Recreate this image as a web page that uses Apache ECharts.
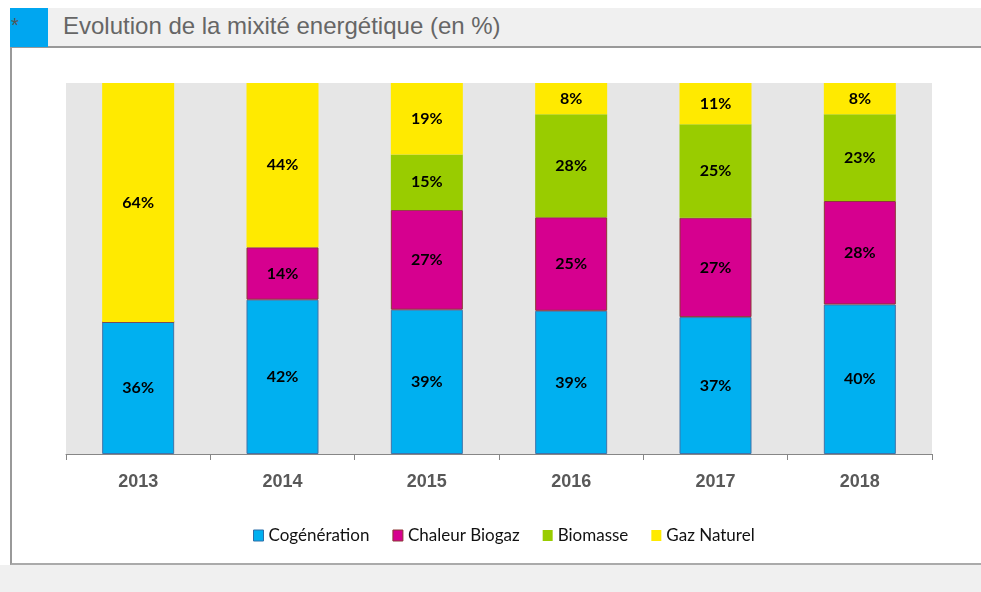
<!DOCTYPE html>
<html>
<head>
<meta charset="utf-8">
<script src="https://cdn.jsdelivr.net/npm/echarts@6/dist/echarts.min.js"></script>
<style>
  html, body { margin: 0; padding: 0; background: #f0f0f0; }
  #page { position: relative; width: 981px; height: 592px; background: #f0f0f0; overflow: hidden; }
  #topband { position: absolute; left: 0; top: 0; width: 981px; height: 8px; background: #fff; }
  #leftband { position: absolute; left: 0; top: 0; width: 10px; height: 565px; background: #fff; }
  #header { position: absolute; left: 10px; top: 8px; width: 971px; height: 38px; background: #f0f0f0; border-bottom: 2px solid #999; }
  #mark { position: absolute; left: 10px; top: 8px; width: 38px; height: 39px; background: #00a6f0; }
  #star { position: absolute; left: 11px; top: 15px; color: #555; font: 20px "Liberation Sans", Arial, sans-serif; line-height: 20px; }
  #title { position: absolute; left: 63px; top: 12px; color: #666; font: 24px "Liberation Sans", Arial, sans-serif; line-height: 28px; white-space: nowrap; }
  #panel { position: absolute; left: 10px; top: 48px; width: 971px; height: 515px; background: #fff; border-left: 2px solid #999; border-bottom: 2px solid #aaa; }
  #chart { position: absolute; left: 0; top: 0; width: 981px; height: 592px; }
</style>
</head>
<body>
<div id="page">
  <div id="topband"></div>
  <div id="leftband"></div>
  <div id="header"></div>
  <div id="mark"></div>
  <div id="star">*</div>
  <div id="title">Evolution de la mixité energétique (en %)</div>
  <div id="panel"></div>
  <div id="chart"></div>
</div>
<script>
// données (en %)
const years = ["2013", "2014", "2015", "2016", "2017", "2018"];
const cogeneration = [35.6, 41.6, 38.9, 38.6, 36.9, 40.3];
const chaleurBiogaz = [0, 14.1, 26.9, 25.2, 26.8, 27.9];
const biomasse = [0, 0, 14.9, 27.8, 25.2, 23.4];
const gazNaturel = [64.4, 44.3, 19.3, 8.4, 11.1, 8.4];

let myChart = echarts.init(document.getElementById("chart"), null, { renderer: "canvas" });

let labelStyle = {
  show: true,
  position: "inside",
  color: "#000",
  fontFamily: "Lato",
  fontWeight: "bold",
  fontSize: 16,
  formatter: function (p) {
    // pas d'étiquette pour les valeurs nulles
    return p.value > 0 ? Math.round(p.value) + "%" : "";
  },
};

function makeSeries(name, data, color, borderColor) {
  return {
    name: name,
    type: "bar",
    stack: "total",
    barWidth: 72,
    itemStyle: {
      color: color,
      borderColor: borderColor,
      borderWidth: borderColor ? 1 : 0,
    },
    label: labelStyle,
    emphasis: { disabled: true },
    data: data,
  };
}

let option = {
  animation: false,
  backgroundColor: "transparent",
  grid: {
    left: 66,
    right: 49,
    top: 83,
    bottom: 138,
    show: true,
    backgroundColor: "#e6e6e6",
    borderWidth: 0,
  },
  legend: {
    top: 522,
    left: 248,
    icon: "rect",
    itemWidth: 10,
    itemHeight: 11,
    itemGap: 23,
    textStyle: {
      color: "#111",
      fontFamily: "Lato",
      fontSize: 17,
    },
    data: [
      { name: "Cogénération", itemStyle: { borderColor: "#2f6fa8", borderWidth: 1 } },
      { name: "Chaleur Biogaz", itemStyle: { borderColor: "#8c3836", borderWidth: 1 } },
      { name: "Biomasse" },
      { name: "Gaz Naturel" },
    ],
  },
  xAxis: {
    type: "category",
    data: years,
    axisLine: { lineStyle: { color: "#868686", width: 1 } },
    axisTick: { show: true, length: 6, lineStyle: { color: "#868686" } },
    axisLabel: {
      color: "#595959",
      fontFamily: "Liberation Sans",
      fontWeight: "bold",
      fontSize: 18,
      margin: 19,
    },
  },
  yAxis: {
    type: "value",
    min: 0,
    max: 100,
    show: false,
    splitLine: { show: false },
  },
  series: [
    makeSeries("Cogénération", cogeneration, "#00b0f0", "#3f73a8"),
    makeSeries("Chaleur Biogaz", chaleurBiogaz, "#d6008f", "#8c3836"),
    makeSeries("Biomasse", biomasse, "#99cc00", null),
    makeSeries("Gaz Naturel", gazNaturel, "#ffea00", null),
  ],
};

myChart.setOption(option);
</script>
</body>
</html>
